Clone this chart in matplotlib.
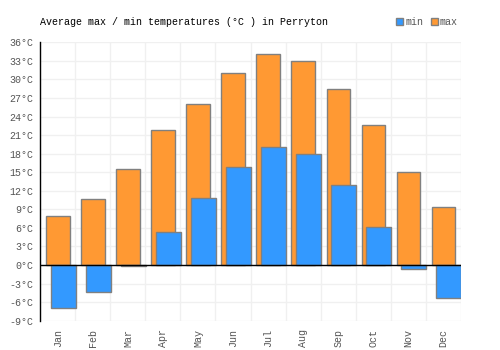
import matplotlib
matplotlib.use("Agg")
import matplotlib.pyplot as plt
import numpy as np
from matplotlib.patches import Patch

months = ["Jan", "Feb", "Mar", "Apr", "May", "Jun", "Jul", "Aug", "Sep", "Oct", "Nov", "Dec"]
t_max = [8.0, 10.6, 15.6, 21.8, 26.1, 31.0, 34.1, 32.9, 28.4, 22.7, 15.0, 9.3]
t_min = [-7.0, -4.4, -0.2, 5.3, 10.8, 15.8, 19.0, 17.9, 13.0, 6.1, -0.6, -5.4]
yticks = list(range(-9, 37, 3))

ORANGE = "#FF9933"
BLUE = "#3399FF"
EDGE = "#808080"
GRID = "#F0F0F0"
TXT = "#555555"
FONT = ["Liberation Mono", "DejaVu Sans Mono"]
FS = 7.2

fig = plt.figure(figsize=(5, 3.5), dpi=100)
ax = fig.add_axes([40.3 / 500, 1 - 320.7 / 350, (460.7 - 40.3) / 500, (320.7 - 42.3) / 350])

x = np.arange(len(months))
ax.bar(x + 0.005, t_max, width=0.67, color=ORANGE, edgecolor=EDGE, linewidth=1, zorder=2, label="max")
ax.bar(x + 0.155, t_min, width=0.70, color=BLUE, edgecolor=EDGE, linewidth=1, zorder=3, label="min")

ax.set_xlim(-0.5, len(months) - 0.5)
ax.set_ylim(-9, 36)
ax.set_yticks(yticks)
ax.set_yticklabels([f"{v}°C" for v in yticks], fontfamily=FONT, fontsize=FS, color=TXT)
ax.set_xticks(x)
ax.set_xticklabels(months, rotation=90, fontfamily=FONT, fontsize=FS, color=TXT)
ax.tick_params(axis="both", length=0)
ax.tick_params(axis="y", pad=5)
ax.tick_params(axis="x", pad=6)

for b in np.arange(-0.5, len(months), 1.0):
    ax.axvline(b, color=GRID, linewidth=1, zorder=0)
for v in yticks:
    ax.axhline(v, color=GRID, linewidth=1, zorder=0)
ax.axhline(0, color="black", linewidth=1, zorder=4)

for s in ["top", "right", "bottom"]:
    ax.spines[s].set_visible(False)
ax.spines["left"].set_color("black")
ax.spines["left"].set_linewidth(1)
ax.spines["left"].set_zorder(5)

fig.text(40 / 500, 1 - 22 / 350, "Average max / min temperatures (°C ) in Perryton",
         fontfamily=FONT, fontsize=FS, color="black", va="center", ha="left")

handles = [Patch(facecolor=BLUE, edgecolor=EDGE, label="min"),
           Patch(facecolor=ORANGE, edgecolor=EDGE, label="max")]
leg = fig.legend(handles=handles, loc="center left", bbox_to_anchor=(391 / 500, 1 - 22 / 350),
                 ncol=2, frameon=False, handlelength=0.7, handleheight=0.7, handletextpad=0.25,
                 columnspacing=0.7, borderpad=0, prop={"family": FONT, "size": FS})
for t in leg.get_texts():
    t.set_color(TXT)

fig.savefig("out.png", dpi=100)
